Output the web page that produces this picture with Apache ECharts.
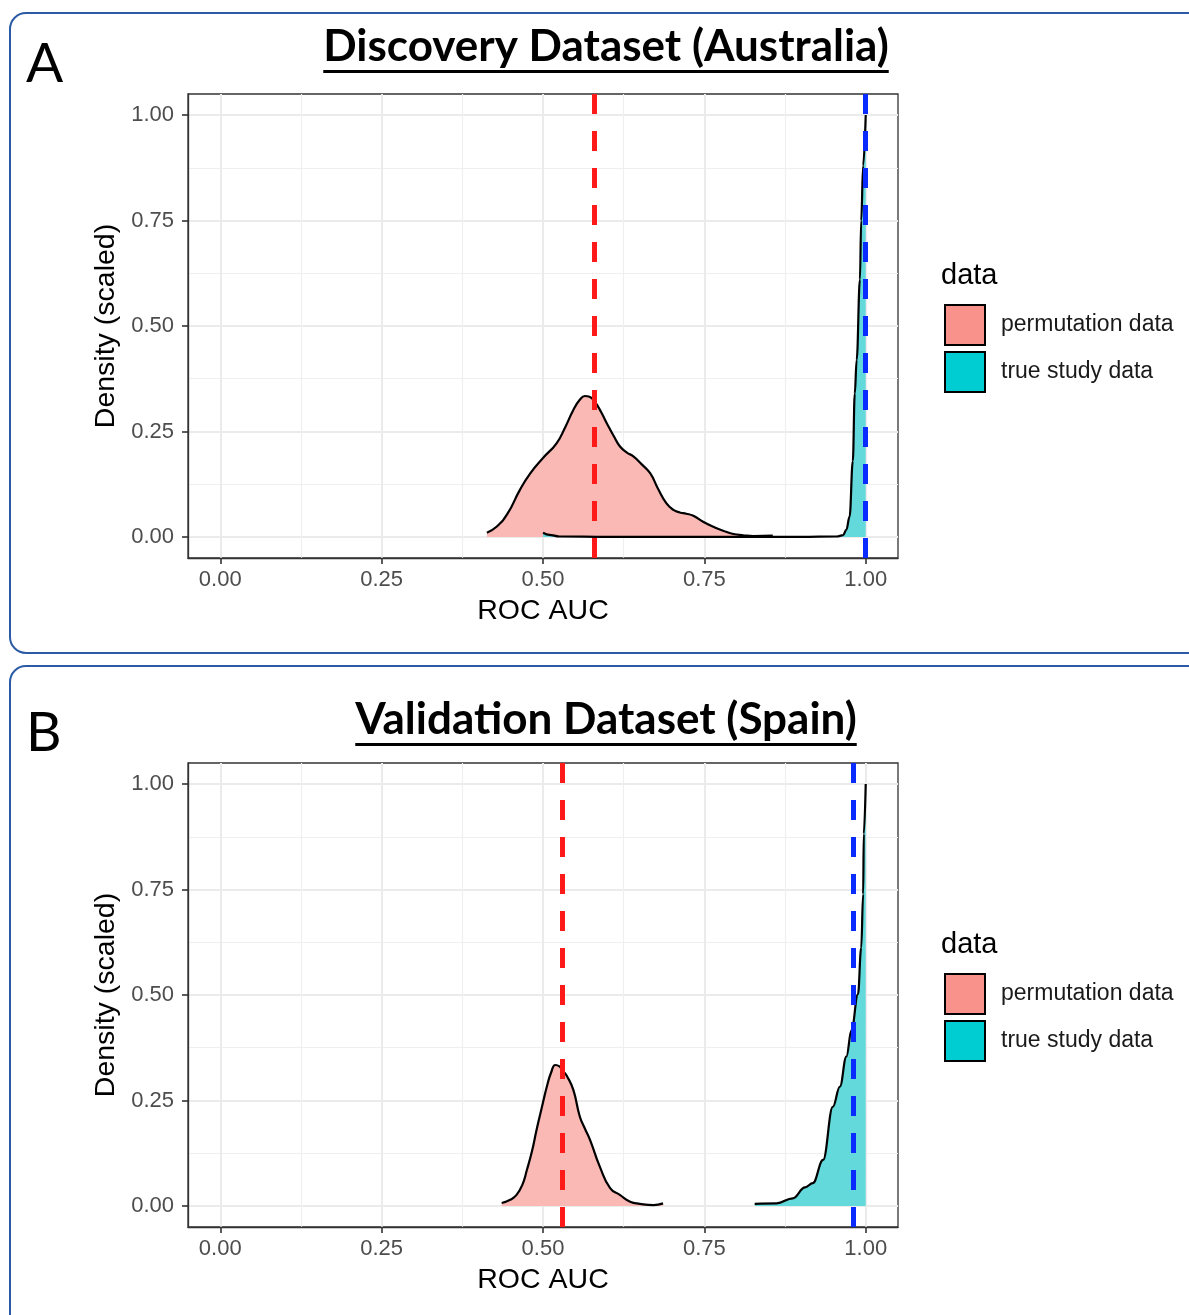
<!DOCTYPE html>
<html lang="en">
<head>
<meta charset="UTF-8">
<title>ROC AUC permutation density</title>
<script src="https://cdn.jsdelivr.net/npm/echarts@6/dist/echarts.min.js"></script>
<style>html,body{margin:0;padding:0;background:#fff}</style>
</head>
<body>
<div id="main" style="width:1189px;height:1315px"></div>
<script>
var myChart = echarts.init(document.getElementById('main'));

// axis breaks
var majorTicks = [0, 0.25, 0.5, 0.75, 1];
var minorTicks = [0.125, 0.375, 0.625, 0.875];
var seriesNames = ['permutation data', 'true study data'];
var panelTitles = ['Discovery Dataset (Australia)', 'Validation Dataset (Spain)'];
var panelLetters = ['A', 'B'];

// Panel A - discovery dataset: [ROC AUC, scaled density]
var discoveryPerm = [
    [0.413, 0.010], [0.428, 0.024], [0.445, 0.055], [0.464, 0.111],
    [0.480, 0.150], [0.500, 0.187], [0.521, 0.222], [0.535, 0.262], [0.547, 0.301],
    [0.557, 0.325], [0.565, 0.334], [0.572, 0.332], [0.580, 0.321], [0.590, 0.296],
    [0.599, 0.269], [0.610, 0.238], [0.619, 0.215], [0.630, 0.200], [0.640, 0.191],
    [0.653, 0.172], [0.666, 0.151], [0.678, 0.115], [0.691, 0.080], [0.702, 0.064],
    [0.712, 0.058], [0.722, 0.055], [0.733, 0.050], [0.748, 0.036], [0.764, 0.024],
    [0.780, 0.014], [0.795, 0.007], [0.810, 0.004], [0.826, 0.002], [0.856, 0.003]
];
var discoveryTrue = [
    [0.500, 0.010], [0.510, 0.005], [0.525, 0.001], [0.600, 0.000], [0.750, 0.000],
    [0.900, 0.000], [0.955, 0.001], [0.965, 0.004], [0.970, 0.017], [0.975, 0.048],
    [0.980, 0.180], [0.983, 0.340], [0.986, 0.420], [0.991, 0.610], [0.993, 0.750],
    [0.996, 0.880], [1.000, 1.000]
];
var discoveryMeans = [0.578, 0.997];   // red = permutation, blue = true study

// Panel B - validation dataset
var validationPerm = [
    [0.436, 0.007], [0.450, 0.015], [0.459, 0.026], [0.468, 0.050], [0.475, 0.085],
    [0.483, 0.130], [0.490, 0.180], [0.498, 0.232], [0.506, 0.283], [0.513, 0.318],
    [0.519, 0.334], [0.526, 0.330], [0.531, 0.320], [0.537, 0.308], [0.547, 0.275],
    [0.557, 0.212], [0.565, 0.183], [0.573, 0.156], [0.588, 0.093], [0.604, 0.042],
    [0.619, 0.026], [0.635, 0.010], [0.650, 0.005], [0.671, 0.002], [0.686, 0.006]
];
var validationTrue = [
    [0.828, 0.005], [0.862, 0.006], [0.887, 0.018], [0.906, 0.044], [0.918, 0.054],
    [0.934, 0.109], [0.949, 0.235], [0.960, 0.283], [0.970, 0.354], [0.978, 0.417],
    [0.988, 0.502], [0.993, 0.612], [0.996, 0.739], [0.997, 0.882], [1.000, 1.000]
];
var validationMeans = [0.532, 0.979];

var axisFont = 'Liberation Sans';
var titleFont = 'bold 44px Lato';
var gridTops = [94, 763];
var frameTops = [13, 666];
var titleShift = [0, 4];

var grids = [], xAxes = [], yAxes = [], series = [], legends = [], graphics = [];

var measureCtx = document.createElement('canvas').getContext('2d');
measureCtx.font = titleFont;

function fmt(v) { return v.toFixed(2); }

var frameLine = { show: true, onZero: false, lineStyle: { color: '#333333', width: 1.3 } };
var tickStyle = { show: true, inside: false, length: 6, customValues: majorTicks, lineStyle: { color: '#333', width: 1.6 } };

function addPanel(i, perm, tru, means) {
    var base = gridTops[i] - gridTops[0];   // vertical shift of panel content
    grids.push({
        left: 188, top: gridTops[i], width: 710, height: 464,
        show: true, borderColor: '#333333', borderWidth: 1.3, backgroundColor: '#fff'
    });
    // main axes (major grid + labels)
    xAxes.push({
        gridIndex: i, type: 'value', min: -0.05, max: 1.05, position: 'bottom',
        name: 'ROC AUC', nameLocation: 'middle', nameGap: 39,
        nameTextStyle: { fontSize: 28.5, color: '#000', fontFamily: axisFont },
        axisLine: frameLine,
        axisTick: tickStyle,
        axisLabel: { customValues: majorTicks, formatter: fmt, fontSize: 22, color: '#4D4D4D', fontFamily: axisFont, margin: 11 },
        splitLine: { show: true, lineStyle: { color: '#EBEBEB', width: 2 } }
    });
    // minor grid lines only
    xAxes.push({
        gridIndex: i, type: 'value', min: -0.05, max: 1.05, position: 'top',
        axisLine: { show: false, onZero: false }, axisLabel: { show: false },
        axisTick: { show: false, customValues: minorTicks },
        splitLine: { show: true, lineStyle: { color: '#EFEFEF', width: 1.2 } }
    });
    yAxes.push({
        gridIndex: i, type: 'value', min: -0.05, max: 1.05, position: 'left',
        name: 'Density (scaled)', nameLocation: 'middle', nameGap: 66, nameRotate: 90,
        nameTextStyle: { fontSize: 28.5, color: '#000', fontFamily: axisFont },
        axisLine: frameLine,
        axisTick: tickStyle,
        axisLabel: { customValues: majorTicks, formatter: fmt, fontSize: 22, color: '#4D4D4D', fontFamily: axisFont, margin: 14 },
        splitLine: { show: true, lineStyle: { color: '#EBEBEB', width: 2 } }
    });
    yAxes.push({
        gridIndex: i, type: 'value', min: -0.05, max: 1.05, position: 'right',
        axisLine: { show: false, onZero: false }, axisLabel: { show: false },
        axisTick: { show: false, customValues: minorTicks },
        splitLine: { show: true, lineStyle: { color: '#EFEFEF', width: 1.2 } }
    });

    var common = {
        type: 'line', xAxisIndex: i * 2, yAxisIndex: i * 2,
        symbol: 'none', showSymbol: false,
        lineStyle: { color: '#000', width: 2.2 }
    };
    series.push(Object.assign({}, common, {
        name: seriesNames[0], data: perm, smooth: 0.5,
        itemStyle: { color: '#F9928B' },
        areaStyle: { color: '#FBB9B5', opacity: 1 }
    }));
    series.push(Object.assign({}, common, {
        name: seriesNames[1], data: tru, smooth: 0.4, smoothMonotone: 'x',
        itemStyle: { color: '#00CDD1' },
        areaStyle: { color: '#63D9DB', opacity: 1 },
        markLine: {
            silent: true, symbol: ['none', 'none'], label: { show: false },
            lineStyle: { width: 5, type: [20, 17] },
            data: [
                { xAxis: means[0], lineStyle: { color: '#FF1A1A' } },
                { xAxis: means[1], lineStyle: { color: '#0A2BFF' } }
            ]
        }
    }));

    legends.push({
        data: [
            { name: seriesNames[0], itemStyle: { color: '#F9928B', borderColor: '#000', borderWidth: 2 } },
            { name: seriesNames[1], itemStyle: { color: '#00CDD1', borderColor: '#000', borderWidth: 2 } }
        ],
        left: 939, top: gridTops[i] + 205, orient: 'vertical', icon: 'rect',
        itemWidth: 40, itemHeight: 40, itemGap: 5, selectedMode: false,
        textStyle: { fontSize: 23, color: '#1A1A1A', fontFamily: axisFont, padding: [0, 0, 0, 11] }
    });

    // panel frame
    graphics.push({
        type: 'rect', shape: { x: 10, y: frameTops[i], width: 1220, height: i === 0 ? 640 : 720, r: 16 },
        style: { fill: 'none', stroke: '#2B5BA5', lineWidth: 2 }, z: 0
    });
    // panel letter
    graphics.push({
        type: 'text', x: 26, y: base + 64,
        style: { text: panelLetters[i], font: '55px Lato', fill: '#000', verticalAlign: 'middle' }
    });
    // panel title with underline
    var tw = measureCtx.measureText(panelTitles[i]).width;
    var ty = base + titleShift[i];
    graphics.push({
        type: 'text', x: 606, y: ty + 25,
        style: { text: panelTitles[i], font: titleFont, fill: '#000', align: 'center', verticalAlign: 'top' }
    });
    graphics.push({
        type: 'line', shape: { x1: 606 - tw / 2, y1: ty + 71.5, x2: 606 + tw / 2, y2: ty + 71.5 },
        style: { stroke: '#000', lineWidth: 3 }
    });
    // legend title
    graphics.push({
        type: 'text', x: 941, y: gridTops[i] + 182,
        style: { text: 'data', font: '29px "Liberation Sans"', fill: '#000', verticalAlign: 'middle' }
    });
}

addPanel(0, discoveryPerm, discoveryTrue, discoveryMeans);
addPanel(1, validationPerm, validationTrue, validationMeans);

var option = {
    backgroundColor: '#fff',
    animation: false,
    grid: grids,
    xAxis: xAxes,
    yAxis: yAxes,
    legend: legends,
    graphic: graphics,
    series: series
};
myChart.setOption(option);
</script>
</body>
</html>
